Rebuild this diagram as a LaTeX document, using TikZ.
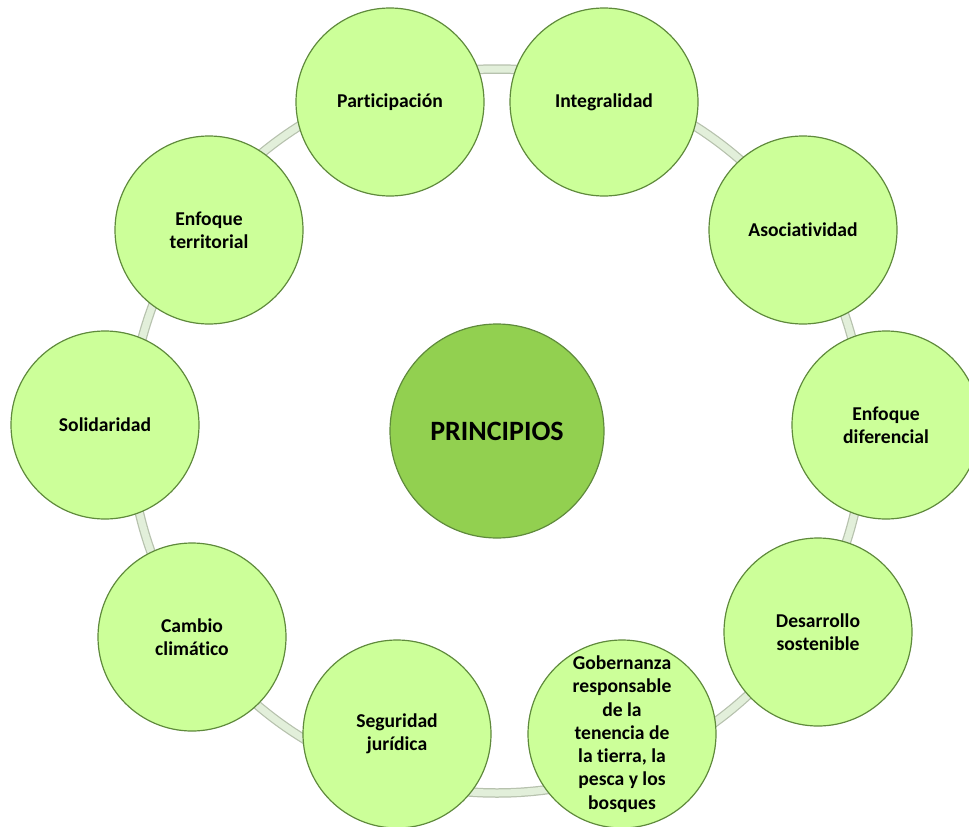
\documentclass[tikz,border=0pt]{standalone}
\usepackage{fontspec}
\setmainfont{Carlito}[Ligatures={NoCommon}]
\definecolor{hojaclara}{HTML}{CCFF99}
\definecolor{hojacentro}{HTML}{92D050}
\definecolor{borde}{HTML}{5F8A3C}
\definecolor{anillo}{HTML}{E2EFDA}
\definecolor{anilloborde}{HTML}{B7C2AE}

\begin{document}
\begin{tikzpicture}[x=1pt,y=-1pt,
		principio/.style={circle,draw=borde,line width=1.2pt,fill=hojaclara,
			minimum size=188pt,inner sep=0pt,align=center,
			font=\fontsize{19.6}{23.3}\selectfont\bfseries},
		centro/.style={circle,draw=borde,line width=1.2pt,fill=hojacentro,
			minimum size=214pt,inner sep=0pt,align=center,
			font=\fontsize{28}{32}\selectfont\bfseries}]
		\useasboundingbox (0,0) rectangle (969,827);
		\clip (0,0) rectangle (969,827);
		\coordinate (c) at (497,431);
		% anillo de fondo
		\draw[anilloborde,line width=9.5pt] (c) circle [x radius=367pt,y radius=362pt];
		\draw[anillo,line width=7pt] (c) circle [x radius=367pt,y radius=362pt];
		\node[centro] (principios) at (c) {PRINCIPIOS};
		\node[principio] (participacion) at (390,102) {Participación};
		\node[principio] (integralidad) at (604,102) {Integralidad};
		\node[principio] (asociatividad) at (803,230) {Asociatividad};
		\node[principio] (diferencial) at (886,425) {Enfoque\\diferencial};
		\node[principio] (desarrollo) at (818,632) {Desarrollo\\sostenible};
		\node[principio] (gobernanza) at (622,734) {Gobernanza\\responsable\\de la\\tenencia de\\la tierra, la\\pesca y los\\bosques};
		\node[principio] (seguridad) at (397,734) {Seguridad\\jurídica};
		\node[principio] (cambio) at (192,637) {Cambio\\climático};
		\node[principio] (solidaridad) at (105,425) {Solidaridad};
		\node[principio] (territorial) at (209,230) {Enfoque\\territorial};
	\end{tikzpicture}
\end{document}
